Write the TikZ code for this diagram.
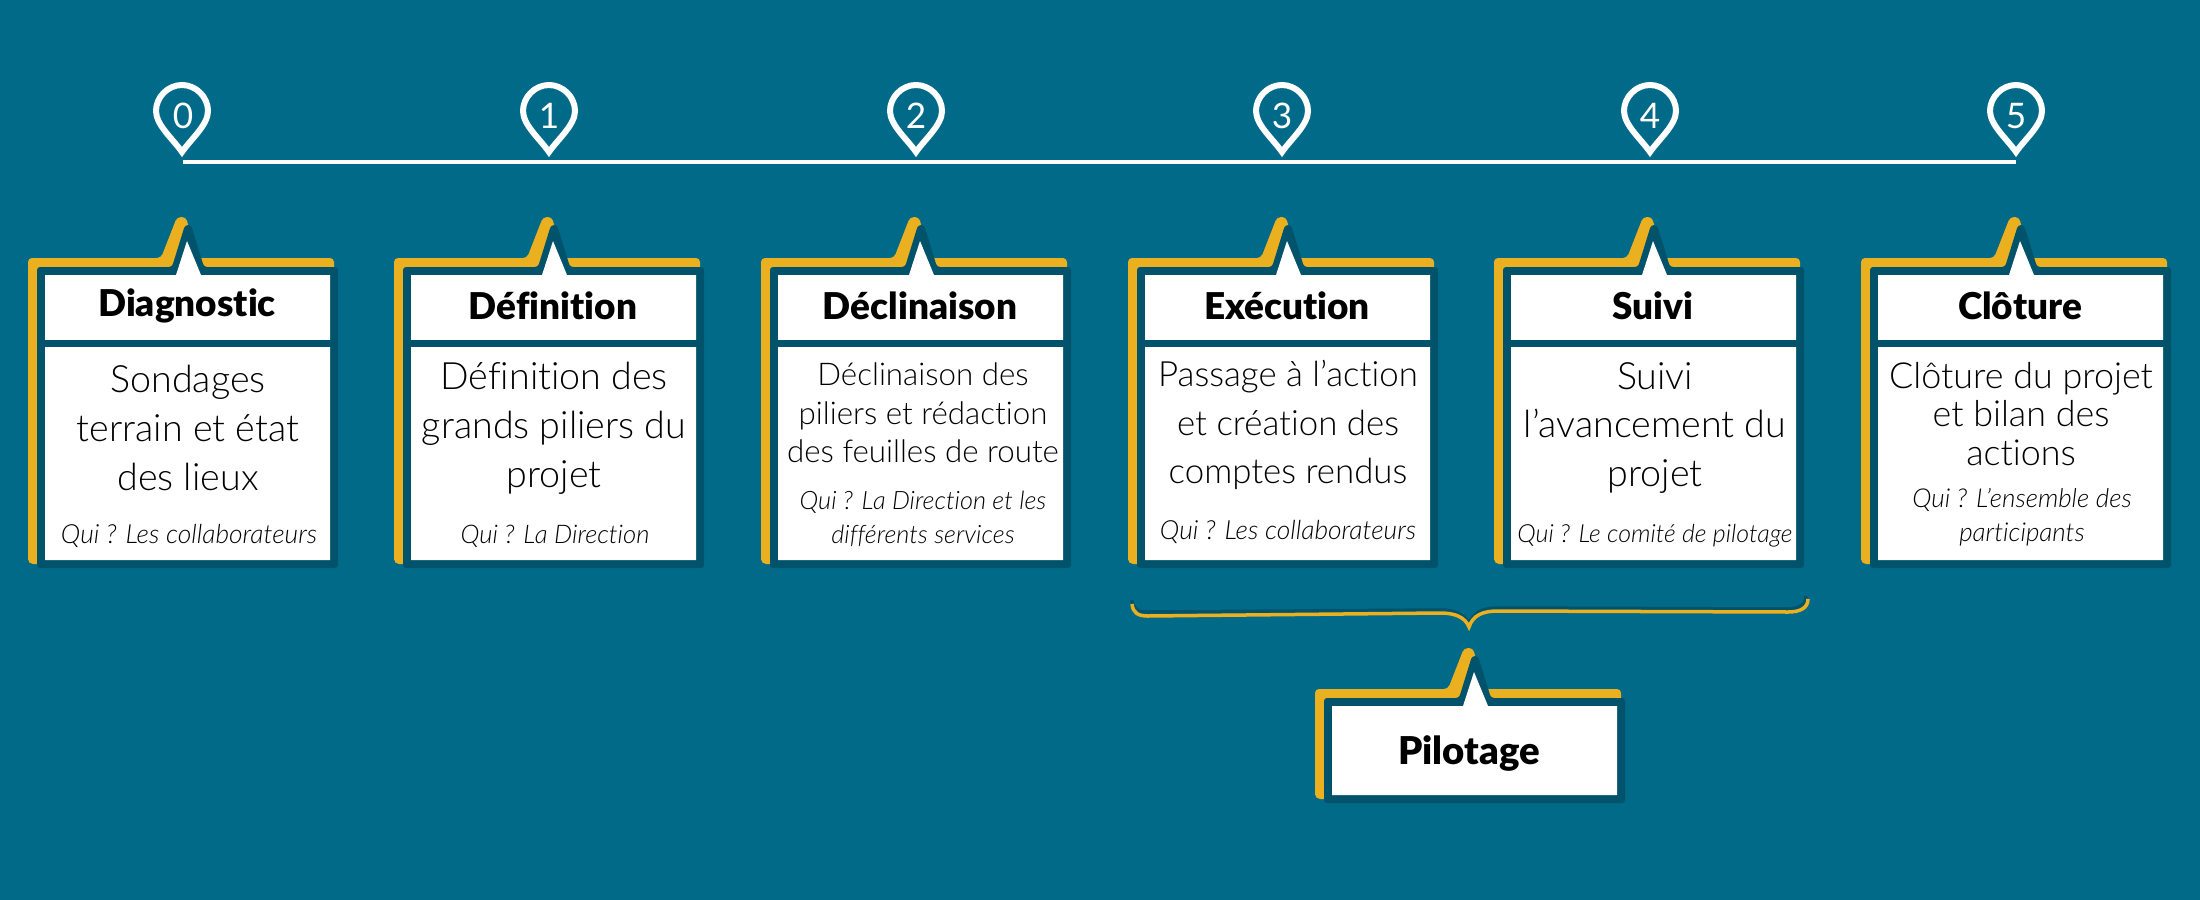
\documentclass[tikz,border=0pt]{standalone}
\usepackage{fontspec}
\usepackage{tikz}
\setmainfont{Lato}[Ligatures=NoCommon]
\newfontfamily\lightfont{Lato Light}[ItalicFont={Lato Light Italic},Ligatures=NoCommon]
\newfontfamily\blackfont{Lato Black}[Ligatures=NoCommon]
\definecolor{bgblue}{RGB}{0,106,136}
\definecolor{darkblue}{RGB}{0,83,106}
\definecolor{cardyellow}{RGB}{235,176,31}
\tikzset{
  timeline/.style={draw=white, line width=0.04cm},
  pinline/.style={draw=white, line width=0.06cm, line join=miter},
  digit/.style={font={\fontsize{10}{12}\selectfont}, text=white, inner sep=0pt},
  titletext/.style={font={\blackfont\fontsize{#1}{12}\selectfont}, text=black, inner sep=0pt},
  titletext/.default=10.5,
  bodytext/.style={font={\lightfont\fontsize{#1}{13.9}\selectfont}, align=center, text=black, inner sep=0pt},
  smalltext/.style={font={\lightfont\fontsize{#1}{10.9}\selectfont}, align=center, text=black, inner sep=0pt},
  whotext/.style={font={\lightfont\itshape\fontsize{#1}{9.7}\selectfont}, align=center, text=black, inner sep=0pt},
  pics/pinpic/.style={code={
    \draw[pinline] (0,41) .. controls (-9,28) and (-26,14) .. (-26,0)
      .. controls (-26,-14) and (-14,-26) .. (0,-26)
      .. controls (14,-26) and (26,-14) .. (26,0)
      .. controls (26,14) and (9,28) .. cycle;
  }},
  pics/cardpic/.style={code={
    \fill[cardyellow, rounded corners=0.04cm] (-17,20) -- (-17,-17) -- (116,-17) -- (132,-58) -- (141,-58) -- (152,-17) -- (289,-17) -- (289,20) -- cycle;
    \fill[cardyellow, rounded corners=0.05cm] (-17,#1-20) -- (-17,#1+4) -- (0,#1+4) -- (0,#1-20) -- cycle;
    \fill[cardyellow] (-17,0) rectangle (-8,#1);
    \fill[darkblue, rounded corners=0.03cm] (-8,-8) -- (127,-8) -- (140,-50) -- (146,-50) -- (159,-8) -- (293,-8) -- (293,#1+8) -- (-8,#1+8) -- cycle;
    \fill[white] (0,0) -- (131,0) -- (142,-34) -- (156,0) -- (285,0) -- (285,#1) -- (0,#1) -- cycle;
  }},
  pics/fullcard/.style={code={
    \pic {cardpic=285};
    \fill[darkblue] (0,65) rectangle (293,72);
  }}
}
\begin{document}
\begin{tikzpicture}[x=0.01cm, y=-0.01cm]
  \fill[bgblue] (0,0) rectangle (2200,900);
  \useasboundingbox (0,0) rectangle (2200,900);

  \coordinate (start) at (183,162);
  \coordinate (end) at (2016,162);
  \draw[timeline] (start) -- (end);

  \pic at (182,111) {pinpic};
  \pic at (549,111) {pinpic};
  \pic at (916,111) {pinpic};
  \pic at (1282,111) {pinpic};
  \pic at (1650,111) {pinpic};
  \pic at (2016,111) {pinpic};
  \node[digit] (d0) at (183,116) {0};
  \node[digit] (d1) at (549,116) {1};
  \node[digit] (d2) at (916,116) {2};
  \node[digit] (d3) at (1282,116) {3};
  \node[digit] (d4) at (1650,116) {4};
  \node[digit] (d5) at (2016,116) {5};

  \pic at (45,275) {fullcard};
  \pic at (411,275) {fullcard};
  \pic at (778,275) {fullcard};
  \pic at (1145,275) {fullcard};
  \pic at (1511,275) {fullcard};
  \pic at (1878,275) {fullcard};

  \node[titletext] (t0) at (187,306) {Diagnostic};
  \node[titletext] (t1) at (553,306) {Définition};
  \node[titletext] (t2) at (920,306) {Déclinaison};
  \node[titletext] (t3) at (1287,306) {Exécution};
  \node[titletext] (t4) at (1653,306) {Suivi};
  \node[titletext] (t5) at (2020,306) {Clôture};

  \node[bodytext=10.7] (b0) at (188,428) {Sondages\\terrain et état\\des lieux};
  \node[bodytext=10.7] (b1) at (554,428) {Définition des\\grands piliers du\\projet};
  \node[smalltext=8.9] (b2) at (923,413) {Déclinaison des\\piliers et rédaction\\des feuilles de route};
  \node[bodytext=9.9] (b3) at (1288,425) {Passage à l’action\\et création des\\comptes rendus};
  \node[bodytext=10.7] (b4) at (1655,428) {Suivi\\l’avancement du\\projet};
  \node[smalltext=10.2] (b5) at (2021,414) {Clôture du projet\\et bilan des\\actions};

  \node[whotext=7.5] (w0) at (189,536) {Qui ? Les collaborateurs};
  \node[whotext=7.3] (w1) at (555,536) {Qui ? La Direction};
  \node[whotext=7.2] (w2) at (923,519) {Qui ? La Direction et les\\différents services};
  \node[whotext=7.5] (w3) at (1288,532) {Qui ? Les collaborateurs};
  \node[whotext=7.1] (w4) at (1655,536) {Qui ? Le comité de pilotage};
  \node[whotext=7.4] (w5) at (2022,517) {Qui ? L’ensemble des\\participants};

  \draw[darkblue, line width=0.035cm] (1132,600) .. controls (1133,610) and (1138,612) .. (1148,612) -- (1440,610) .. controls (1455,610) and (1464,614) .. (1469,624) .. controls (1474,612) and (1483,608) .. (1498,608) -- (1788,609) .. controls (1800,609) and (1806,604) .. (1806,596);
  \draw[cardyellow, line width=0.035cm] (1132,604) .. controls (1133,613) and (1138,616) .. (1148,616) -- (1440,613) .. controls (1455,613) and (1465,617) .. (1469,627) .. controls (1473,615) and (1483,611) .. (1498,611) -- (1788,612) .. controls (1800,612) and (1808,608) .. (1808,599);

  \pic at (1332,706) {cardpic=89};
  \node[titletext=10.9] (pilot) at (1469,754) {Pilotage};
\end{tikzpicture}
\end{document}
